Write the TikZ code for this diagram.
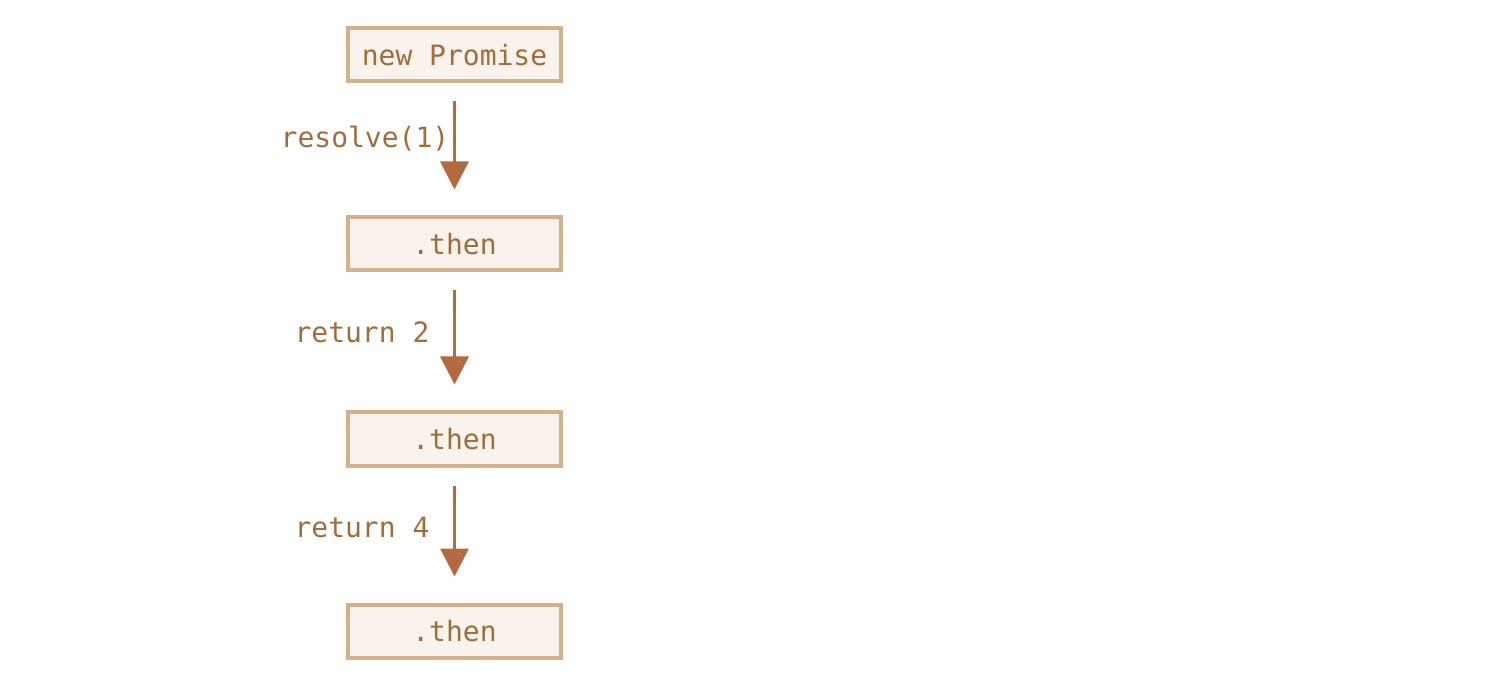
\documentclass[tikz,border=0pt]{standalone}
\usepackage{fontspec}
\setmonofont{DejaVu Sans Mono}
\usetikzlibrary{arrows.meta}
\definecolor{txtc}{HTML}{A06E3A}
\definecolor{boxline}{HTML}{D4B08C}
\definecolor{boxfill}{HTML}{FAF2EC}
\definecolor{arrc}{HTML}{B4693F}
\begin{document}
\begin{tikzpicture}[x=1pt,y=-1pt,
  stagebox/.style={draw=boxline,fill=boxfill,line width=4pt,minimum width=213pt,minimum height=53pt,inner sep=0pt,text=txtc,font=\ttfamily\fontsize{28}{31}\selectfont},
  lbl/.style={text=txtc,font=\ttfamily\fontsize{28}{31}\selectfont,inner sep=0pt},
  flow/.style={draw=arrc,line width=3.5pt,-{Triangle[width=28pt,length=28pt]},shorten <=18pt,shorten >=26pt}]
\useasboundingbox (0,0) rectangle (1502,684);
\node[stagebox] (p) at (454.5,55) {new Promise};
\node[stagebox] (t1) at (454.5,244) {.then};
\node[stagebox] (t2) at (454.5,439) {.then};
\node[stagebox] (t3) at (454.5,631) {.then};
\draw[flow] (p) -- (t1);
\draw[flow] (t1) -- (t2);
\draw[flow] (t2) -- (t3);
\node[lbl] (l1) at (365,139) {resolve(1)};
\node[lbl] (l2) at (362,332) {return 2};
\node[lbl] (l3) at (362,527) {return 4};
\end{tikzpicture}
\end{document}
